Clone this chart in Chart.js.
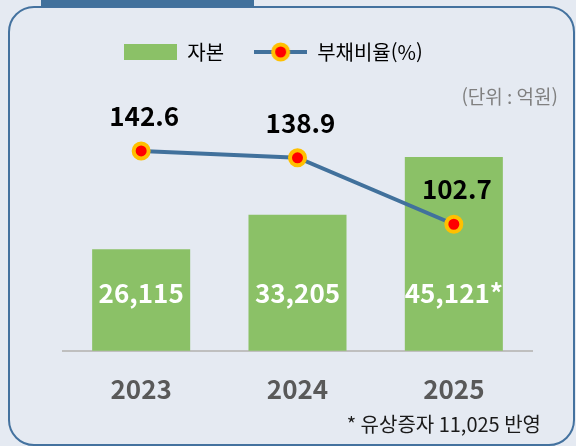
<!DOCTYPE html>
<html lang="ko">
<head>
<meta charset="utf-8">
<script src="https://cdn.jsdelivr.net/npm/chart.js@4"></script>
<style>
  html, body { margin: 0; padding: 0; background: #e5eaf2; }
  #wrap { position: relative; width: 576px; height: 446px; overflow: hidden; }
  .frame { position: absolute; left: 8px; top: 6px; width: 567px; height: 440px; box-sizing: border-box;
           border: 2px solid #44729f; border-radius: 26px; }
  .tab { position: absolute; left: 41px; top: 0; width: 213px; height: 7px; background: #41719c; }
  canvas { position: absolute; left: 0; top: 0; }
</style>
</head>
<body>
<div id="wrap">
  <div class="frame"></div>
  <div class="tab"></div>
  <canvas id="chart" width="576" height="446"></canvas>
</div>
<script>
// 데이터
const years = ['2023', '2024', '2025'];
const capital = [26115, 33205, 45121];      // 자본 (억원)
const capitalNote = ['', '', '*'];          // 유상증자 반영 표시
const debtRatio = [142.6, 138.9, 102.7];    // 부채비율 (%)

const unitText = '(단위 : 억원)';
const footnote = '* 유상증자 11,025 반영';

const GREEN = '#8bc167';
const BLUE = '#41719c';
const FONT = "'Noto Sans CJK KR', 'Noto Sans', sans-serif";

Chart.defaults.font.family = FONT;

// 범례용 아이콘
function legendIcon(kind) {
  const c = document.createElement('canvas');
  c.width = 53;
  c.height = 22;
  const g = c.getContext('2d');
  if (kind === 'bar') {
    g.fillStyle = GREEN;
    g.fillRect(0, 3, 53, 16);
  } else {
    g.strokeStyle = BLUE;
    g.lineWidth = 4;
    g.beginPath();
    g.moveTo(0, 11);
    g.lineTo(53, 11);
    g.stroke();
    g.beginPath();
    g.arc(26.5, 11, 7.5, 0, Math.PI * 2);
    g.fillStyle = '#ff0000';
    g.fill();
    g.lineWidth = 4;
    g.strokeStyle = '#ffc000';
    g.stroke();
  }
  return c;
}

// 값 라벨, 단위, 주석
const textPlugin = {
  id: 'textPlugin',
  afterDatasetsDraw(chart) {
    const ctx = chart.ctx;
    const bottom = chart.scales.y.bottom;
    ctx.save();
    ctx.textAlign = 'center';
    ctx.textBaseline = 'middle';
    ctx.font = 'bold 26px ' + FONT;

    ctx.fillStyle = '#ffffff';
    chart.getDatasetMeta(0).data.forEach((bar, i) => {
      ctx.fillText(capital[i].toLocaleString('en-US') + capitalNote[i], bar.x, bottom - 58);
    });

    ctx.fillStyle = '#000000';
    chart.getDatasetMeta(1).data.forEach((pt, i) => {
      ctx.fillText(debtRatio[i].toFixed(1), pt.x + 3, pt.y - 35);
    });
    ctx.restore();
  },
  afterDraw(chart) {
    const ctx = chart.ctx;
    ctx.save();
    ctx.textAlign = 'right';
    ctx.textBaseline = 'middle';
    ctx.font = '19px ' + FONT;
    ctx.fillStyle = '#808080';
    ctx.fillText(unitText, 558, 97);
    ctx.font = '20px ' + FONT;
    ctx.fillStyle = '#1a1a1a';
    ctx.fillText(footnote, 541, 424);
    ctx.restore();
  }
};

new Chart(document.getElementById('chart'), {
  data: {
    labels: years,
    datasets: [
      {
        type: 'bar',
        label: '자본',
        data: capital,
        backgroundColor: GREEN,
        yAxisID: 'y',
        order: 1,
        categoryPercentage: 1,
        barPercentage: 0.627
      },
      {
        type: 'line',
        label: '부채비율(%)',
        data: debtRatio,
        borderColor: BLUE,
        borderWidth: 4,
        pointRadius: 7.5,
        pointBorderWidth: 4,
        pointBackgroundColor: '#ff0000',
        pointBorderColor: '#ffc000',
        yAxisID: 'y1',
        order: 0
      }
    ]
  },
  options: {
    responsive: false,
    animation: false,
    devicePixelRatio: 1,
    layout: { padding: { top: 12, left: 0, right: 29, bottom: 18 } },
    plugins: {
      tooltip: { enabled: false },
      legend: {
        position: 'top',
        labels: {
          usePointStyle: true,
          pointStyleWidth: 53,
          padding: 30,
          color: '#262626',
          font: { size: 20 },
          generateLabels: () => [
            { text: '자본', pointStyle: legendIcon('bar'), datasetIndex: 0, hidden: false, lineWidth: 0 },
            { text: '부채비율(%)', pointStyle: legendIcon('line'), datasetIndex: 1, hidden: false, lineWidth: 0 }
          ]
        }
      }
    },
    scales: {
      x: {
        grid: { display: false, drawTicks: false },
        border: { display: true, color: '#bfbfbf', width: 2 },
        ticks: { color: '#595959', padding: 23, font: { size: 26, weight: 'bold' } }
      },
      y: {
        position: 'left',
        min: 5175,
        max: 62620,
        grid: { display: false, drawTicks: false },
        border: { display: false },
        ticks: { display: false },
        afterFit(scale) { scale.width = 63; }
      },
      y1: {
        position: 'right',
        min: 33.8,
        max: 185.6,
        grid: { display: false, drawTicks: false },
        border: { display: false },
        ticks: { display: false },
        afterFit(scale) { scale.width = 15; }
      }
    }
  },
  plugins: [textPlugin]
});
</script>
</body>
</html>
